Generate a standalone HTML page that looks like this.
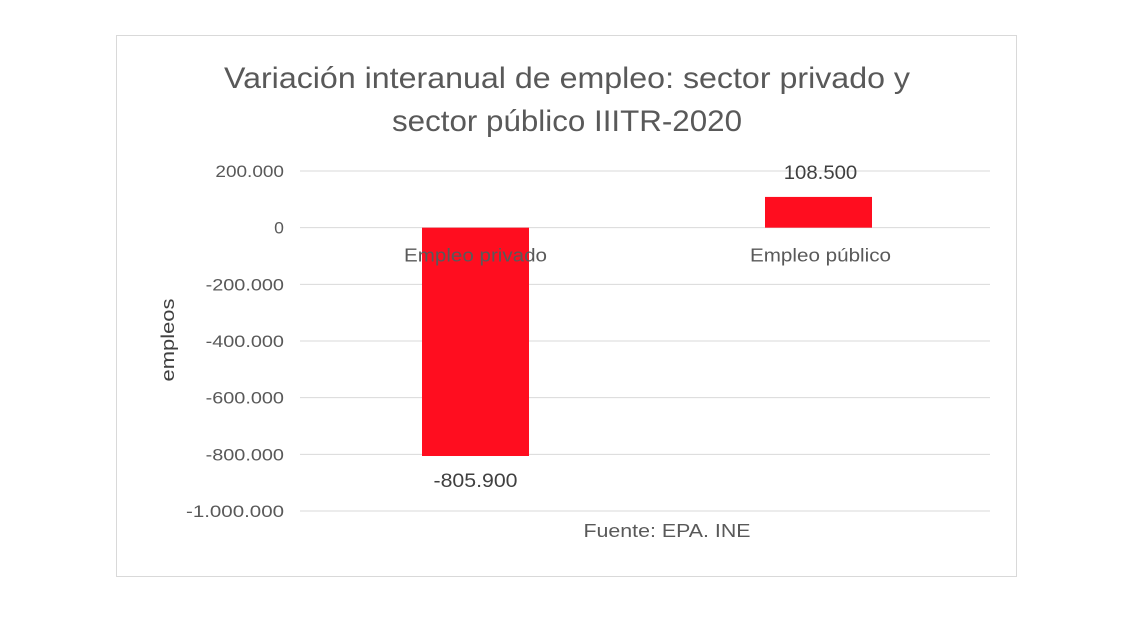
<!DOCTYPE html>
<html><head><meta charset="utf-8"><style>
body{margin:0;background:#fff;width:1142px;height:612px;overflow:hidden;font-family:"Liberation Sans",Arial,sans-serif}
</style></head><body>
<svg width="1142" height="612">
<rect x="116.5" y="35.5" width="900" height="541" fill="#fff" stroke="#d9d9d9"/>
<text x="567" y="88" font-size="30" fill="#595959" text-anchor="middle" textLength="686" lengthAdjust="spacingAndGlyphs">Variación interanual de empleo: sector privado y</text>
<text x="567" y="131" font-size="30" fill="#595959" text-anchor="middle" textLength="350" lengthAdjust="spacingAndGlyphs">sector público IIITR-2020</text>
<text transform="translate(174,340) rotate(-90)" font-size="18" fill="#404040" text-anchor="middle" textLength="83" lengthAdjust="spacingAndGlyphs">empleos</text>
<text x="667" y="537" font-size="18" fill="#595959" text-anchor="middle" textLength="167" lengthAdjust="spacingAndGlyphs">Fuente: EPA. INE</text>
<g id="grid"></g><g id="bars"></g><g id="labels"></g>
</svg>
<script>
const categories=["Empleo privado","Empleo público"];
const values=[-805900,108500];
const valueLabels=["-805.900","108.500"];
const ticks=[200000,0,-200000,-400000,-600000,-800000,-1000000];
const tickLabels=["200.000","0","-200.000","-400.000","-600.000","-800.000","-1.000.000"];
const NS="http://www.w3.org/2000/svg";
const x0=300,x1=990,yTop=171,yBot=511,vMax=200000,vMin=-1000000;
const y=v=>yTop+(vMax-v)/(vMax-vMin)*(yBot-yTop);
const band=(x1-x0)/categories.length;
const cx=i=>x0+band*(i+0.5);
function mk(tag,attrs,parent){const e=document.createElementNS(NS,tag);for(const k in attrs)e.setAttribute(k,attrs[k]);document.getElementById(parent).appendChild(e);return e;}
ticks.forEach((t,i)=>{
 const l=mk('line',{x1:x0,x2:x1,y1:y(t),y2:y(t),stroke:'#d9d9d9','stroke-width':1},'grid');
 
 
 const tx=mk('text',{x:284,y:y(t)+6,'font-size':17,fill:'#595959','text-anchor':'end'},'grid');
 tx.textContent=tickLabels[i];
 tx.setAttribute('textLength',tickLabels[i].length*9.8);
 tx.setAttribute('lengthAdjust','spacingAndGlyphs');
 
 
});
const bw=107;
values.forEach((v,i)=>{
 const top=Math.min(y(v),y(0)),h=Math.abs(y(v)-y(0));
 const r=mk('rect',{x:cx(i)-bw/2+3-(i===1?2:0),y:top,width:bw,height:h,fill:'#ff0d1f'},'bars');
 
 
 const c=mk('text',{x:cx(i)+3,y:y(0)+34,'font-size':18,fill:'#595959','text-anchor':'middle'},'labels');
 c.textContent=categories[i];
 c.setAttribute('textLength',i===0?143:141);
 c.setAttribute('lengthAdjust','spacingAndGlyphs');
 
 
 const vl=mk('text',{x:cx(i)+3,y:v<0?y(v)+31:y(v)-18,'font-size':19,fill:'#404040','text-anchor':'middle'},'labels');
 vl.textContent=valueLabels[i];
 vl.setAttribute('textLength',valueLabels[i].length*10.5);
 vl.setAttribute('lengthAdjust','spacingAndGlyphs');
 
 
});
</script>
</body></html>
